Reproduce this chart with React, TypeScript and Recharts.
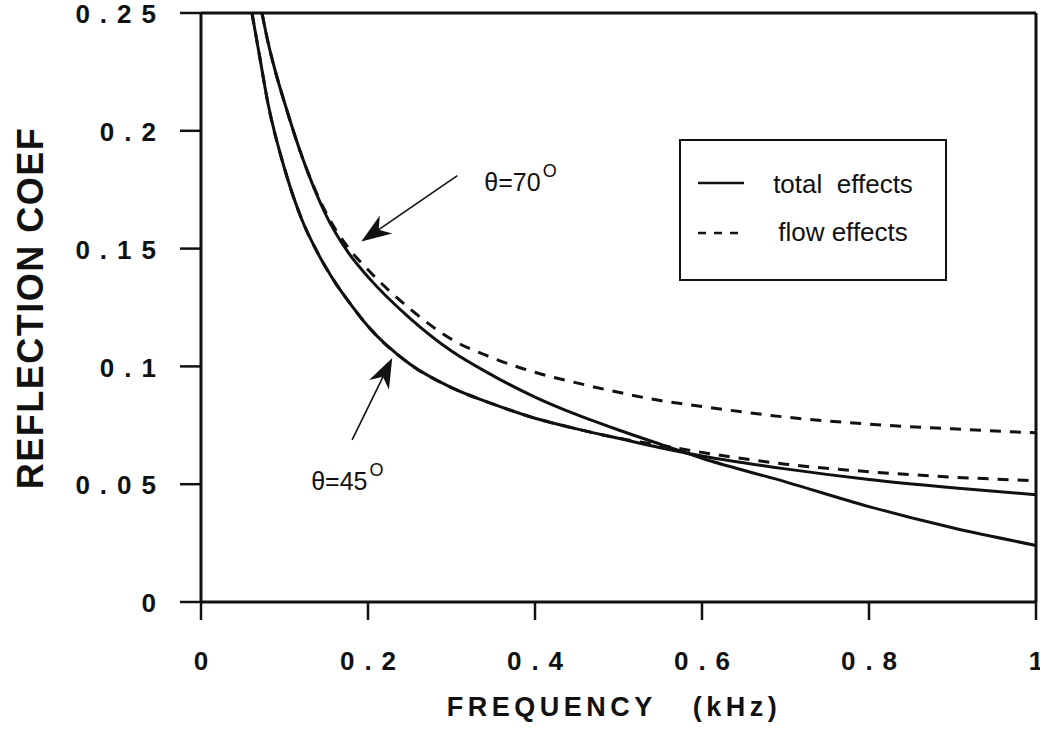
import { LineChart, Line, XAxis, YAxis, ReferenceLine } from "recharts";

// frequency (kHz) / reflection coefficient
const FREQ_45 = [0.061, 0.07, 0.08, 0.1, 0.12, 0.14, 0.16, 0.18, 0.2, 0.25, 0.3, 0.35, 0.4, 0.45, 0.5, 0.55, 0.6, 0.7, 0.8, 0.9, 1.0];
const TOTAL_45 = [0.25, 0.232, 0.212, 0.184, 0.163, 0.148, 0.136, 0.126, 0.117, 0.101, 0.091, 0.084, 0.078, 0.0735, 0.0695, 0.0655, 0.062, 0.0565, 0.052, 0.0485, 0.0455];
const FLOW_45 = [0.25, 0.232, 0.212, 0.184, 0.163, 0.148, 0.136, 0.126, 0.117, 0.101, 0.091, 0.084, 0.078, 0.0735, 0.0695, 0.0665, 0.0635, 0.0585, 0.0553, 0.053, 0.0515];

const FREQ_70 = [0.073, 0.08, 0.09, 0.1, 0.12, 0.15, 0.175, 0.2, 0.25, 0.3, 0.35, 0.4, 0.45, 0.5, 0.55, 0.6, 0.7, 0.8, 0.9, 1.0];
const TOTAL_70 = [0.25, 0.238, 0.224, 0.212, 0.19, 0.164, 0.149, 0.138, 0.1205, 0.1065, 0.096, 0.087, 0.0795, 0.073, 0.067, 0.061, 0.051, 0.0405, 0.0315, 0.024];
const FLOW_70 = [0.25, 0.238, 0.224, 0.212, 0.19, 0.165, 0.151, 0.141, 0.1245, 0.1115, 0.1035, 0.0975, 0.093, 0.089, 0.0855, 0.083, 0.0785, 0.0755, 0.0735, 0.0718];

const X_TICKS = [0, 0.2, 0.4, 0.6, 0.8, 1];
const Y_TICKS = [0, 0.05, 0.1, 0.15, 0.2, 0.25];

const rows = (f: number[], v: number[]) => f.map((x, i) => ({ f: x, v: v[i] }));

const FONT = '"Liberation Sans", Arial, Helvetica, sans-serif';
const INK = "#111";
const DASH = "11 9";

// annotation arrows, in data units (start -> tip)
const ARROW_70 = [{ x: 0.307, y: 0.181 }, { x: 0.192, y: 0.153 }];
const ARROW_45 = [{ x: 0.181, y: 0.0688 }, { x: 0.229, y: 0.1036 }];

function XTick({ x, y, payload }: any) {
  return (
    <text x={x + 5} y={y} dy="0.71em" textAnchor="middle" fill={INK}
      style={{ fontFamily: FONT, fontSize: 26, fontWeight: 700, letterSpacing: 10 }}>
      {String(payload.value)}
    </text>
  );
}

function YTick({ x, y, payload }: any) {
  return (
    <text x={x + 10} y={y + 1} dy="0.355em" textAnchor="end" fill={INK}
      style={{ fontFamily: FONT, fontSize: 26, fontWeight: 700, letterSpacing: 10 }}>
      {String(payload.value)}
    </text>
  );
}

function arrowShape(angle: string, dx: number, dy: number) {
  return (p: any) => {
    const { x1, y1, x2, y2 } = p;
    const len = Math.hypot(x2 - x1, y2 - y1);
    const ux = (x2 - x1) / len, uy = (y2 - y1) / len;
    const nx = -uy, ny = ux;
    const bx = x2 - ux * 30, by = y2 - uy * 30;
    const head = [
      [x2, y2],
      [bx + nx * 11, by + ny * 11],
      [x2 - ux * 21, y2 - uy * 21],
      [bx - nx * 11, by - ny * 11],
    ].map(q => q.join(",")).join(" ");
    return (
      <g>
        <line x1={x1} y1={y1} x2={x2 - ux * 18} y2={y2 - uy * 18} stroke={INK} strokeWidth={1.6} />
        <polygon points={head} fill={INK} />
        <text x={x1 + dx} y={y1 + dy} fill={INK} style={{ fontFamily: FONT, fontSize: 25 }}>
          θ={angle}
          <tspan dx={2} dy={-14} style={{ fontSize: 18 }}>O</tspan>
        </text>
      </g>
    );
  };
}

function Legend() {
  const txt = { fontFamily: FONT, fontSize: 26, whiteSpace: "pre" as const };
  return (
    <svg width={270} height={144} style={{ position: "absolute", left: 678, top: 138 }}>
      <rect x={2} y={2} width={266} height={140} fill="#fff" stroke={INK} strokeWidth={2} />
      <line x1={20} x2={66} y1={45} y2={45} stroke={INK} strokeWidth={2.5} />
      <line x1={20} x2={66} y1={95} y2={95} stroke={INK} strokeWidth={2.5} strokeDasharray="8 8" />
      <text x={165} y={55} textAnchor="middle" fill={INK} style={txt}>total  effects</text>
      <text x={165} y={103} textAnchor="middle" fill={INK} style={txt}>flow effects</text>
    </svg>
  );
}

export default function App() {
  return (
    <div style={{ position: "absolute", left: 0, top: 0, width: 1040, height: 731, background: "#fff" }}>
      <LineChart width={1040} height={731} margin={{ top: 13, right: 4, bottom: 0, left: 0 }}>
        <XAxis type="number" dataKey="f" domain={[0, 1]} ticks={X_TICKS} height={129}
          axisLine={{ stroke: INK, strokeWidth: 3 }} tickLine={{ stroke: INK, strokeWidth: 2.5 }}
          tickSize={18} tickMargin={32} tick={<XTick />}
          label={() => (
            <text x={614} y={716} textAnchor="middle" fill={INK}
              style={{ fontFamily: FONT, fontSize: 27, fontWeight: 700, letterSpacing: 4.5 }}>
              <tspan>FREQUENCY</tspan><tspan dx={36}>(kHz)</tspan>
            </text>
          )} />
        <YAxis type="number" domain={[0, 0.25]} ticks={Y_TICKS} width={201}
          axisLine={{ stroke: INK, strokeWidth: 3 }} tickLine={{ stroke: INK, strokeWidth: 2.5 }}
          tickSize={21} tickMargin={24} tick={<YTick />}
          label={() => (
            <text x={43} y={308} transform="rotate(-90 43 308)" textAnchor="middle" fill={INK}
              style={{ fontFamily: FONT, fontSize: 36, fontWeight: 700, letterSpacing: 1.5 }}>
              REFLECTION COEF
            </text>
          )} />
        <ReferenceLine y={0.25} stroke={INK} strokeWidth={3} />
        <ReferenceLine x={1} stroke={INK} strokeWidth={3} />

        <Line data={rows(FREQ_45, TOTAL_45)} dataKey="v" type="monotone" stroke={INK} strokeWidth={3} dot={false} isAnimationActive={false} />
        <Line data={rows(FREQ_45, FLOW_45)} dataKey="v" type="monotone" stroke={INK} strokeWidth={3} strokeDasharray={DASH} dot={false} isAnimationActive={false} />
        <Line data={rows(FREQ_70, TOTAL_70)} dataKey="v" type="monotone" stroke={INK} strokeWidth={3} dot={false} isAnimationActive={false} />
        <Line data={rows(FREQ_70, FLOW_70)} dataKey="v" type="monotone" stroke={INK} strokeWidth={3} strokeDasharray={DASH} dot={false} isAnimationActive={false} />

        <ReferenceLine segment={ARROW_70} shape={arrowShape("70", 27, 15)} />
        <ReferenceLine segment={ARROW_45} shape={arrowShape("45", -41, 50)} />
      </LineChart>
      <Legend />
    </div>
  );
}
